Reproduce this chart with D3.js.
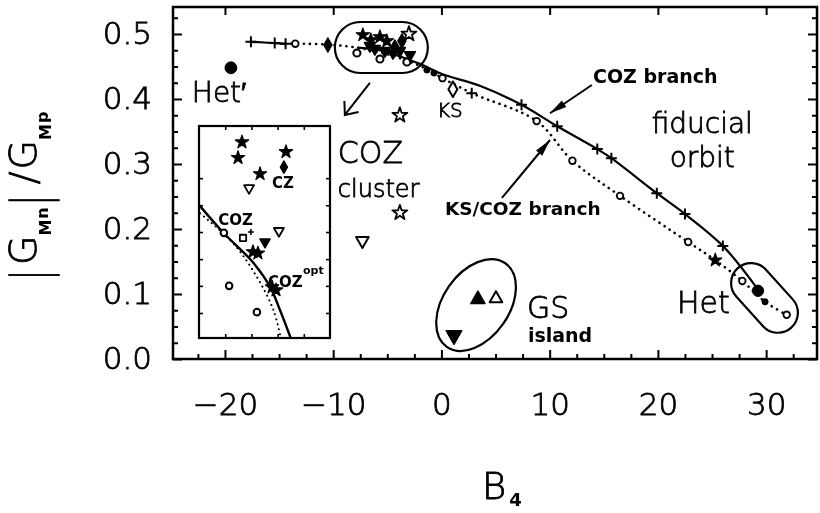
<!DOCTYPE html>
<html>
<head>
<meta charset="utf-8">
<script src="https://cdn.jsdelivr.net/npm/d3@7/dist/d3.min.js"></script>
<style>
  html, body { margin: 0; padding: 0; background: #fff; }
  svg { display: block; filter: grayscale(1); }
  .thin { font-weight: 200; stroke: #000; stroke-width: 0.8px; }
</style>
</head>
<body>
<svg id="chart" width="820" height="513"></svg>
<script>
// ---------- axis ticks ----------
const xTickValues = [-20, -10, 0, 10, 20, 30];
const xTickLabels = ["\u221220", "\u221210", "0", "10", "20", "30"];
const yTickValues = [0, 0.1, 0.2, 0.3, 0.4, 0.5];
const yTickLabels = ["0.0", "0.1", "0.2", "0.3", "0.4", "0.5"];

// ---------- COZ branch (solid line) ----------
const cozStubB4 = [-17.6, -15.4, -14.4];
const cozStubG  = [0.488, 0.486, 0.485];
const cozArcB4  = [-7.8, -5.7, -2.0, 0.1, 3.6, 7.4, 10.7, 14.4, 15.7, 19.9, 22.5, 26.0, 29.2];
const cozArcG   = [0.479, 0.475, 0.454, 0.438, 0.420, 0.391, 0.358, 0.323, 0.309, 0.255, 0.223, 0.174, 0.108];
const cozCrossB4 = [-17.6, -15.4, -14.4, 2.8, 7.4, 10.7, 14.4, 15.7, 19.9, 22.5, 26.0];
const cozCrossG  = [0.488, 0.486, 0.485, 0.409, 0.391, 0.358, 0.323, 0.309, 0.255, 0.223, 0.174];

// ---------- KS/COZ branch (dotted line) ----------
const ksB4 = [-14.4, -13.5, -9.8, -5.7, -2.0, 0.1, 2.8, 8.8, 12.1, 16.5, 22.8, 25.3, 27.8, 29.9, 31.9];
const ksG  = [0.485, 0.485, 0.483, 0.472, 0.451, 0.432, 0.409, 0.366, 0.305, 0.251, 0.180, 0.152, 0.120, 0.088, 0.068];
const ksCircleB4 = [-13.5, 0.1, 8.8, 12.1, 16.5, 22.8, 27.8, 31.9];
const ksCircleG  = [0.485, 0.432, 0.366, 0.305, 0.251, 0.180, 0.120, 0.068];

// ---------- individual parametrizations ----------
const filledStarB4 = [-7.26, -6.52, -5.68, -5.04, 25.3];
const filledStarG  = [0.4985, 0.4908, 0.4954, 0.4892, 0.152];
const openStarB4 = [-3.0, -3.84, -3.84];
const openStarG  = [0.500, 0.375, 0.225];
const filledDiamondB4 = [-3.65, -4.3, -10.49];
const filledDiamondG  = [0.4892, 0.480, 0.483];
const clusterBlobB4 = [-6.15, -5.22, -4.48, -6.61, -3.84, -2.91];
const clusterBlobG  = [0.4754, 0.4723, 0.4692, 0.480, 0.4723, 0.466];
const clusterCircleB4 = [-7.81, -5.68, -3.19];
const clusterCircleG  = [0.4708, 0.4615, 0.4569];
const lineDotB4 = [-1.34, -0.69];
const lineDotG  = [0.4446, 0.440];
const openTriDownB4 = [-7.3];
const openTriDownG  = [0.180];
const ksB4pt = [1.06], ksGpt = [0.415];
const hetB4 = [29.25], hetG = [0.105];
const hetSmallB4 = [29.9], hetSmallG = [0.088];
const hetPrimeB4 = [-19.45], hetPrimeG = [0.448];
// GS island
const gsUpFilledB4 = [3.37], gsUpFilledG = [0.094];
const gsUpOpenB4 = [5.04], gsUpOpenG = [0.095];
const gsDownFilledB4 = [1.16], gsDownFilledG = [0.034];

// ---------- inset (zoom of the COZ cluster) ----------
const insetSolidB4 = [-8.0, -7.05, -5.99, -5.29, -4.91, -4.5];
const insetSolidG  = [0.4814, 0.4747, 0.4682, 0.4621, 0.4566, 0.45];
const insetDotB4 = [-7.96, -6.69, -5.80, -5.16, -4.88];
const insetDotG  = [0.4794, 0.4723, 0.4645, 0.4566, 0.45];
const insetStarB4 = [-6.36, -6.51, -4.68, -5.67, -5.94, -5.75, -5.21, -5.06];
const insetStarG  = [0.4962, 0.4925, 0.4939, 0.4887, 0.4703, 0.4700, 0.4620, 0.4613];
const insetDiamondB4 = [-4.76], insetDiamondG = [0.4903];
const insetOpenTriB4 = [-6.09, -4.95], insetOpenTriG = [0.4851, 0.4750];
const insetFilledTriB4 = [-5.48], insetFilledTriG = [0.4724];
const insetCircleB4 = [-7.05, -6.85, -5.79], insetCircleG = [0.4748, 0.4623, 0.4561];
const insetSquareB4 = [-6.32], insetSquareG = [0.4736];
const insetPlusB4 = [-6.02], insetPlusG = [0.4750];
const insetXTicks = [-7, -6, -5, -4];
const insetYTicks = [0.4559, 0.4623, 0.4686, 0.4750, 0.4813, 0.4877];

// ---------- layout ----------
const W = 820, H = 513;
const margin = { top: 7, right: 3, bottom: 154, left: 173 };
const FONT = "'DejaVu Sans', sans-serif";

const x = d3.scaleLinear().domain([-24.8, 34.7]).range([margin.left, W - margin.right]);
const y = d3.scaleLinear().domain([0, 0.5415]).range([H - margin.bottom, margin.top]);

const svg = d3.select("#chart");
const zip = (a, b) => a.map((v, i) => [v, b[i]]);

// custom symbol shapes
const symPlus = { draw(ctx, size) { const r = Math.sqrt(size); ctx.moveTo(-r, 0); ctx.lineTo(r, 0); ctx.moveTo(0, -r); ctx.lineTo(0, r); } };
const symTriDown = { draw(ctx, size) { const h = Math.sqrt(size); ctx.moveTo(-h, -h * 0.8); ctx.lineTo(h, -h * 0.8); ctx.lineTo(0, h * 0.95); ctx.closePath(); } };
const symTriUp = { draw(ctx, size) { const h = Math.sqrt(size); ctx.moveTo(-h, h * 0.8); ctx.lineTo(h, h * 0.8); ctx.lineTo(0, -h * 0.95); ctx.closePath(); } };

function drawSymbols(parent, sx, sy, b4, gv, type, size, filled, sw) {
  parent.append("g").selectAll("path").data(zip(b4, gv)).join("path")
    .attr("transform", d => `translate(${sx(d[0])},${sy(d[1])})`)
    .attr("d", d3.symbol().type(type).size(size))
    .attr("fill", filled ? "#000" : "#fff")
    .attr("stroke", "#000")
    .attr("stroke-width", sw || 1.6)
    .attr("stroke-linejoin", "round");
}

// ---------- axes ----------
function styleAxis(sel) {
  sel.select(".domain").remove();
  sel.selectAll("line").attr("stroke", "#000").attr("stroke-width", 2);
  sel.selectAll("text").attr("fill", "#000").attr("font-size", 31).attr("font-family", FONT).attr("class", "thin");
}
const xMinor = d3.range(-22.5, 34.6, 2.5).filter(v => Math.abs(v % 10) > 1e-6);
const yMinor = d3.range(0.025, 0.54, 0.025).filter(v => Math.abs(v * 10 - Math.round(v * 10)) > 1e-6);

svg.append("g").attr("transform", `translate(0,${y(0)})`)
  .call(d3.axisBottom(x).tickValues(xMinor).tickSize(-5).tickFormat("")).call(styleAxis);
svg.append("g").attr("transform", `translate(0,${y(0)})`)
  .call(d3.axisBottom(x).tickValues(xTickValues).tickSizeInner(-9).tickSizeOuter(0).tickPadding(34)
    .tickFormat((d, i) => xTickLabels[i])).call(styleAxis);
svg.append("g").attr("transform", `translate(0,${y.range()[1]})`)
  .call(d3.axisTop(x).tickValues(xTickValues).tickSize(-8).tickFormat("")).call(styleAxis);
svg.append("g").attr("transform", `translate(${x.range()[0]},0)`)
  .call(d3.axisLeft(y).tickValues(yMinor).tickSize(-5).tickFormat("")).call(styleAxis);
svg.append("g").attr("transform", `translate(${x.range()[0]},0)`)
  .call(d3.axisLeft(y).tickValues(yTickValues).tickSizeInner(-9).tickSizeOuter(0).tickPadding(21)
    .tickFormat((d, i) => yTickLabels[i])).call(styleAxis);
svg.append("g").attr("transform", `translate(${x.range()[1]},0)`)
  .call(d3.axisRight(y).tickValues(yMinor).tickSize(-5).tickFormat("")).call(styleAxis);
svg.append("g").attr("transform", `translate(${x.range()[1]},0)`)
  .call(d3.axisRight(y).tickValues(yTickValues).tickSize(-9).tickFormat("")).call(styleAxis);

// frame
svg.append("rect")
  .attr("x", x.range()[0]).attr("y", y.range()[1])
  .attr("width", x.range()[1] - x.range()[0]).attr("height", y.range()[0] - y.range()[1])
  .attr("fill", "none").attr("stroke", "#000").attr("stroke-width", 2.5);

// ---------- axis titles ----------
const xt = svg.append("text").attr("font-family", FONT).attr("fill", "#000")
  .attr("x", 482).attr("y", 499);
xt.append("tspan").attr("font-size", 37).attr("class", "thin").text("B");
xt.append("tspan").attr("font-size", 18).attr("font-weight", "bold").attr("dx", 3).attr("dy", 7).text("4");

// rotated y title: |G_M^n| /G_M^p
const yt = svg.append("g").attr("transform", "translate(36,279) rotate(-90)");
const titlePieces = [
  { t: "|", bar: true, gap: 2 },
  { t: "G", size: 38, v: 0, gap: 6 },
  { t: "M", size: 16, v: 15, bold: true, gap: 0 },
  { t: "n", size: 16, v: 12, bold: true, gap: 1 },
  { t: "|", bar: true, gap: 5 },
  { t: "/", size: 38, v: 0, gap: 12 },
  { t: "G", size: 38, v: 0, gap: 2 },
  { t: "M", size: 16, v: 15, bold: true, gap: 0 },
  { t: "p", size: 16, v: 12, bold: true, gap: 1 }
];
let u = 0;
titlePieces.forEach(p => {
  u += p.gap;
  if (p.bar) {
    yt.append("text").attr("font-family", FONT).attr("font-size", 28).attr("text-anchor", "middle")
      .attr("class", "thin")
      .attr("transform", `translate(${u + 2},11) scale(1,1.79)`).text("|");
    u += 6;
  } else {
    const t = yt.append("text").attr("font-family", FONT).attr("font-size", p.size)
      .attr("font-weight", p.bold ? "bold" : null)
      .attr("class", p.bold ? null : "thin")
      .attr("x", u).attr("y", p.v).text(p.t);
    u += t.node().getComputedTextLength();
  }
});

// ---------- enclosures ----------
function pill(cb4, cg, w, h, angle) {
  svg.append("rect")
    .attr("x", -w / 2).attr("y", -h / 2).attr("width", w).attr("height", h)
    .attr("rx", h / 2).attr("ry", h / 2)
    .attr("transform", `translate(${x(cb4)},${y(cg)}) rotate(${angle})`)
    .attr("fill", "none").attr("stroke", "#000").attr("stroke-width", 2.2);
}
pill(-5.55, 0.4792, 93, 51, 0);      // COZ cluster
pill(29.85, 0.094, 80, 40, 48);      // Het
svg.append("ellipse")                 // GS island
  .attr("rx", 51).attr("ry", 33)
  .attr("transform", `translate(${x(3.2)},${y(0.083)}) rotate(-55)`)
  .attr("fill", "none").attr("stroke", "#000").attr("stroke-width", 2.2);

// ---------- curves ----------
const line = d3.line().x(d => x(d[0])).y(d => y(d[1])).curve(d3.curveCatmullRom.alpha(0.5));
svg.append("path").attr("d", line(zip(ksB4, ksG)))
  .attr("fill", "none").attr("stroke", "#000").attr("stroke-width", 2.6)
  .attr("stroke-linecap", "round").attr("stroke-dasharray", "0.1 6");
svg.append("path").attr("d", line(zip(cozStubB4, cozStubG)))
  .attr("fill", "none").attr("stroke", "#000").attr("stroke-width", 2.2);
svg.append("path").attr("d", line(zip(cozArcB4, cozArcG)))
  .attr("fill", "none").attr("stroke", "#000").attr("stroke-width", 2.2);

// ---------- markers ----------
drawSymbols(svg, x, y, cozCrossB4, cozCrossG, symPlus, 30, false, 2);
drawSymbols(svg, x, y, ksCircleB4, ksCircleG, d3.symbolCircle, 34, false, 1.8);
drawSymbols(svg, x, y, clusterCircleB4, clusterCircleG, d3.symbolCircle, 40, false, 2);
drawSymbols(svg, x, y, clusterBlobB4, clusterBlobG, symTriDown, 30, true, 1.5);
drawSymbols(svg, x, y, filledStarB4, filledStarG, d3.symbolStar, 55, true, 1.2);
drawSymbols(svg, x, y, filledDiamondB4, filledDiamondG, d3.symbolDiamond, 60, true, 1.2);
drawSymbols(svg, x, y, lineDotB4, lineDotG, d3.symbolCircle, 30, true, 1);
drawSymbols(svg, x, y, openStarB4, openStarG, d3.symbolStar, 70, false, 1.8);
drawSymbols(svg, x, y, openTriDownB4, openTriDownG, symTriDown, 40, false, 2);
drawSymbols(svg, x, y, ksB4pt, ksGpt, d3.symbolDiamond, 70, false, 2);
drawSymbols(svg, x, y, hetB4, hetG, d3.symbolCircle, 100, true, 1);
drawSymbols(svg, x, y, hetSmallB4, hetSmallG, d3.symbolCircle, 30, true, 1);
drawSymbols(svg, x, y, hetPrimeB4, hetPrimeG, d3.symbolCircle, 110, true, 1);
drawSymbols(svg, x, y, gsUpFilledB4, gsUpFilledG, symTriUp, 50, true, 1.5);
drawSymbols(svg, x, y, gsUpOpenB4, gsUpOpenG, symTriUp, 40, false, 2);
drawSymbols(svg, x, y, gsDownFilledB4, gsDownFilledG, symTriDown, 60, true, 1.5);

// ---------- arrows ----------
function arrow(b0, g0, b1, g1, open) {
  const x0 = x(b0), y0 = y(g0), x1 = x(b1), y1 = y(g1);
  const a = Math.atan2(y1 - y0, x1 - x0);
  svg.append("line").attr("x1", x0).attr("y1", y0).attr("x2", x1).attr("y2", y1)
    .attr("stroke", "#000").attr("stroke-width", 2);
  if (open) {
    const L = 14, s = 0.7;
    const p = d3.path();
    p.moveTo(x1 - L * Math.cos(a - s), y1 - L * Math.sin(a - s));
    p.lineTo(x1, y1);
    p.lineTo(x1 - L * Math.cos(a + s), y1 - L * Math.sin(a + s));
    svg.append("path").attr("d", p.toString()).attr("fill", "none").attr("stroke", "#000").attr("stroke-width", 2);
  } else {
    const L = 17, hw = 4;
    const bx = x1 - L * Math.cos(a), by = y1 - L * Math.sin(a);
    const nx = -Math.sin(a) * hw, ny = Math.cos(a) * hw;
    svg.append("path").attr("d", `M${x1},${y1}L${bx + nx},${by + ny}L${bx - nx},${by - ny}Z`).attr("fill", "#000");
  }
}
arrow(-6.61, 0.4246, -8.92, 0.3754, true);   // cluster -> inset
arrow(13.9, 0.4215, 10.03, 0.378, false);    // COZ branch
arrow(5.59, 0.2477, 10.03, 0.3369, false);   // KS/COZ branch

// ---------- annotations ----------
function label(b4, g, txt, size, opts) {
  opts = opts || {};
  return svg.append("text").attr("x", x(b4)).attr("y", y(g))
    .attr("font-family", FONT).attr("font-size", size)
    .attr("font-weight", opts.bold ? "bold" : null)
    .attr("class", opts.bold ? null : "thin")
    .attr("text-anchor", opts.anchor || "start").attr("fill", "#000").text(txt);
}
label(-23.06, 0.3954, "Het\u2032", 28);
label(-0.42, 0.3723, "KS", 20);
label(-9.57, 0.3015, "COZ", 30);
label(-9.57, 0.2492, "cluster", 24);
label(14.0, 0.4246, "COZ branch", 19, { bold: true });
label(24.1, 0.3477, "fiducial", 28, { anchor: "middle" });
label(24.1, 0.2954, "orbit", 28, { anchor: "middle" });
label(0.32, 0.2215, "KS/COZ branch", 18.5, { bold: true });
label(21.77, 0.0708, "Het", 30);
label(7.9, 0.0631, "GS", 30);
label(7.99, 0.0262, "island", 19, { bold: true });

// ---------- inset ----------
const ix = d3.scaleLinear().domain([-8, -3]).range([199, 330]);
const iy = d3.scaleLinear().domain([0.45, 0.5]).range([338, 126]);
const inset = svg.append("g");
function styleInsetAxis(sel) {
  sel.select(".domain").remove();
  sel.selectAll("line").attr("stroke", "#000").attr("stroke-width", 1.6);
}
inset.append("g").attr("transform", `translate(0,${iy.range()[0]})`).call(d3.axisBottom(ix).tickValues(insetXTicks).tickSize(-4).tickFormat("")).call(styleInsetAxis);
inset.append("g").attr("transform", `translate(0,${iy.range()[1]})`).call(d3.axisTop(ix).tickValues(insetXTicks).tickSize(-4).tickFormat("")).call(styleInsetAxis);
inset.append("g").attr("transform", `translate(${ix.range()[0]},0)`).call(d3.axisLeft(iy).tickValues(insetYTicks).tickSize(-4).tickFormat("")).call(styleInsetAxis);
inset.append("g").attr("transform", `translate(${ix.range()[1]},0)`).call(d3.axisRight(iy).tickValues(insetYTicks).tickSize(-4).tickFormat("")).call(styleInsetAxis);
inset.append("rect").attr("x", ix.range()[0]).attr("y", iy.range()[1])
  .attr("width", ix.range()[1] - ix.range()[0]).attr("height", iy.range()[0] - iy.range()[1])
  .attr("fill", "none").attr("stroke", "#000").attr("stroke-width", 2.2);
const iline = d3.line().x(d => ix(d[0])).y(d => iy(d[1])).curve(d3.curveCatmullRom.alpha(0.5));
inset.append("path").attr("d", iline(zip(insetDotB4, insetDotG)))
  .attr("fill", "none").attr("stroke", "#000").attr("stroke-width", 2)
  .attr("stroke-linecap", "round").attr("stroke-dasharray", "0.1 5");
inset.append("path").attr("d", iline(zip(insetSolidB4, insetSolidG)))
  .attr("fill", "none").attr("stroke", "#000").attr("stroke-width", 2.4);
drawSymbols(inset, ix, iy, insetCircleB4, insetCircleG, d3.symbolCircle, 34, false, 2);
drawSymbols(inset, ix, iy, insetSquareB4, insetSquareG, d3.symbolSquare, 40, false, 1.8);
drawSymbols(inset, ix, iy, insetPlusB4, insetPlusG, symPlus, 9, false, 1.6);
drawSymbols(inset, ix, iy, insetOpenTriB4, insetOpenTriG, symTriDown, 25, false, 1.8);
drawSymbols(inset, ix, iy, insetFilledTriB4, insetFilledTriG, symTriDown, 25, true, 1.5);
drawSymbols(inset, ix, iy, insetStarB4, insetStarG, d3.symbolStar, 55, true, 1.2);
drawSymbols(inset, ix, iy, insetDiamondB4, insetDiamondG, d3.symbolDiamond, 45, true, 1.2);
function ilabel(b4, g, txt, size) {
  inset.append("text").attr("x", ix(b4)).attr("y", iy(g))
    .attr("font-family", FONT).attr("font-size", size).attr("font-weight", "bold")
    .attr("fill", "#000").text(txt);
}
ilabel(-5.21, 0.4854, "CZ", 15);
ilabel(-7.27, 0.4767, "COZ", 15);
ilabel(-5.37, 0.4620, "COZ", 15);
ilabel(-4.03, 0.4651, "opt", 11);
</script>
</body>
</html>
